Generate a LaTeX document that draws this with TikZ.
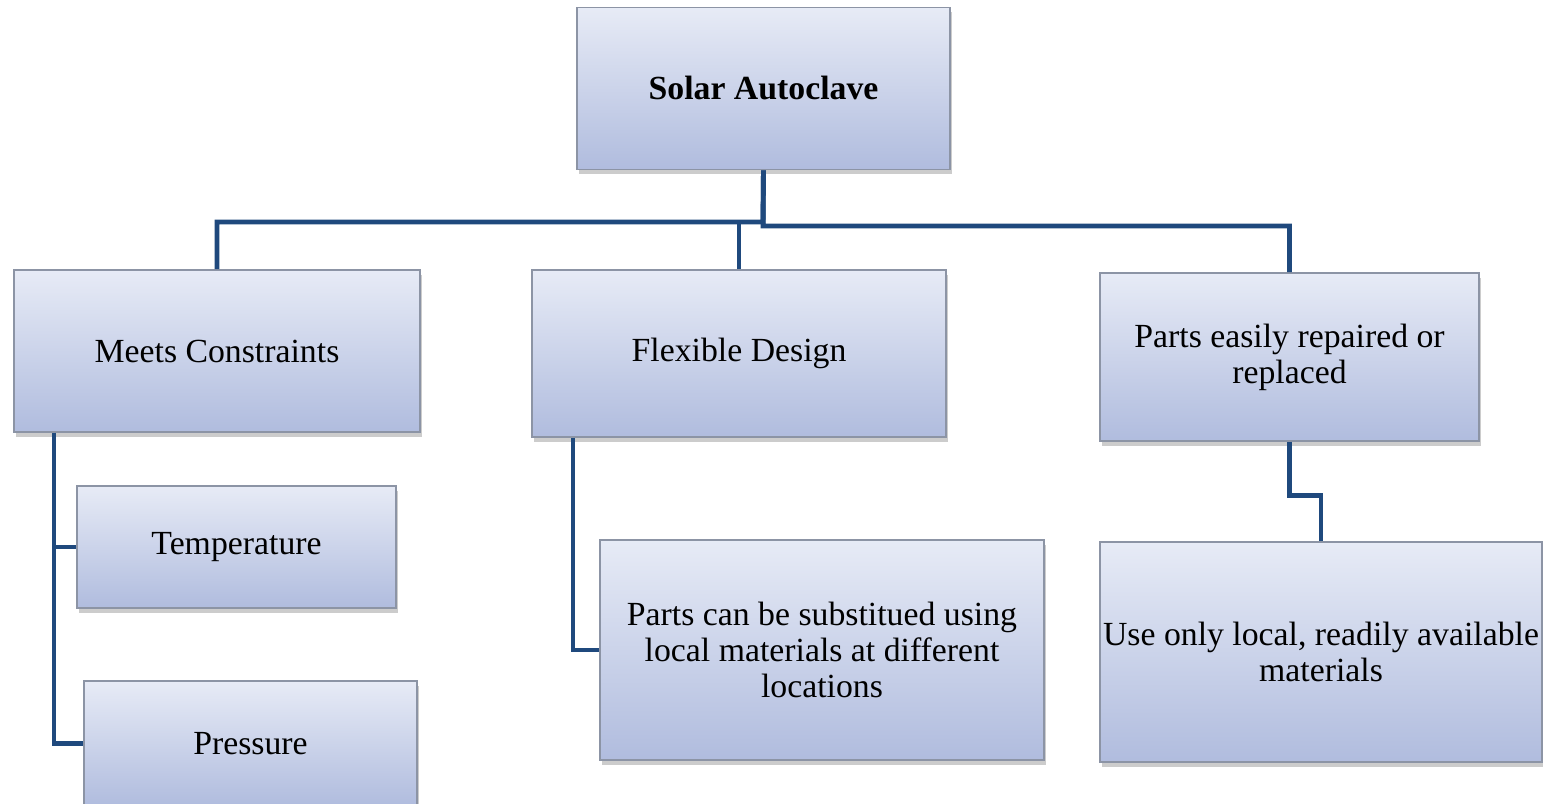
\documentclass[tikz,border=0pt]{standalone}
\usepackage{fontspec}
\setmainfont{Liberation Serif}
\usetikzlibrary{shadows}
\definecolor{boxtop}{RGB}{231,235,246}
\definecolor{boxbot}{RGB}{176,188,222}
\definecolor{boxline}{RGB}{140,148,165}
\definecolor{linkblue}{RGB}{31,73,125}
\begin{document}
\begin{tikzpicture}[x=0.01cm,y=-0.01cm,
  box/.style={rectangle,draw=boxline,line width=0.5pt,top color=boxtop,bottom color=boxbot,
    align=center,inner sep=2pt,font=\fontsize{9.6}{10.2}\selectfont,
    drop shadow={shadow xshift=0.6pt,shadow yshift=-1.4pt,opacity=0.4}},
  link/.style={draw=linkblue,line width=1.4pt,line join=miter}]
\clip (0,0) rectangle (1543,804);
\node[box,minimum width=3.73cm,minimum height=1.62cm] (top) at (763.5,88.5) {\textbf{Solar Autoclave}};
\node[box,minimum width=4.06cm,minimum height=1.62cm] (meets) at (217,351) {Meets Constraints};
\node[box,minimum width=4.14cm,minimum height=1.67cm] (flex) at (739,353.5) {Flexible Design};
\node[box,minimum width=3.79cm,minimum height=1.68cm] (parts) at (1289.5,357) {Parts easily repaired or\\replaced};
\node[box,minimum width=3.19cm,minimum height=1.22cm] (temp) at (236.5,547) {Temperature};
\node[box,minimum width=3.33cm,minimum height=1.25cm] (press) at (250.5,743.5) {Pressure};
\node[box,minimum width=4.44cm,minimum height=2.20cm] (subst) at (822,650) {Parts can be substitued using\\local materials at different\\locations};
\node[box,inner xsep=0pt,minimum width=4.42cm,minimum height=2.20cm] (local) at (1321,652) {Use only local, readily available\\materials};
\coordinate (busL) at (763,222);
\coordinate (busR) at (763,226);
\draw[link] (top.south) -- (busR) -| (parts.north);
\draw[link] (top.south) -- (busL) -| (meets.north);
\draw[link] (flex.north) -- ++(0,-48);
\draw[link] ([xshift=4.1mm]meets.south west) |- (temp.west);
\draw[link] ([xshift=4.1mm]meets.south west) |- (press.west);
\draw[link] ([xshift=4.2mm]flex.south west) |- (subst.west);
\draw[link] (parts.south) -- ++(0,54) -| (local.north);
\end{tikzpicture}
\end{document}
